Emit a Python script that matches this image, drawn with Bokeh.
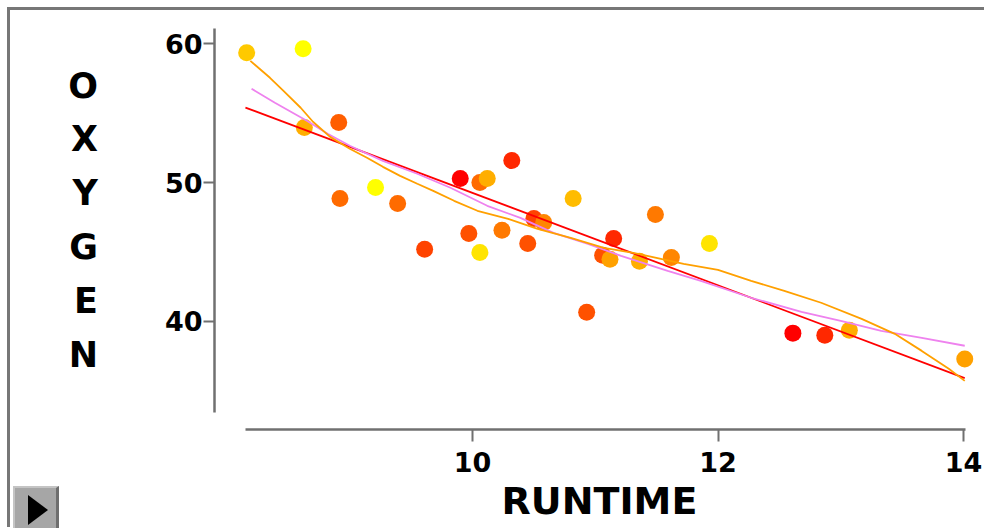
from bokeh.plotting import figure
from bokeh.models import ColumnDataSource, FixedTicker, Range1d, Div
from bokeh.layouts import column
from bokeh.transform import linear_cmap
from bokeh.embed import file_html
from bokeh.resources import INLINE

# ---- data ----
runtime = [8.16, 8.62, 8.63, 8.91, 8.92, 9.21, 9.39, 9.61, 9.90, 9.97, 10.06,
           10.06, 10.12, 10.24, 10.32, 10.45, 10.50, 10.58, 10.82, 10.93, 11.06,
           11.12, 11.15, 11.36, 11.49, 11.62, 11.93, 12.61, 12.87, 13.07, 14.01]
oxygen = [59.35, 59.64, 53.96, 54.32, 48.85, 49.64, 48.49, 45.18, 50.29, 46.33, 44.96,
          50.00, 50.29, 46.55, 51.58, 45.61, 47.41, 47.12, 48.85, 40.65, 44.75,
          44.46, 45.97, 44.32, 47.70, 44.60, 45.61, 39.14, 38.99, 39.35, 37.27]
age = [42, 38, 44, 50, 49, 38, 49, 52, 57, 51, 40,
       49, 44, 48, 54, 51, 52, 47, 43, 51, 51,
       45, 54, 44, 48, 47, 40, 57, 54, 44, 45]

linear_x = [8.15, 14.01]
linear_y = [55.40, 35.90]

quad_x = [8.20, 8.39, 8.65, 8.82, 9.00, 9.27, 9.55, 9.82, 10.12, 10.39, 10.66,
          10.94, 11.21, 11.59, 11.86, 12.27, 12.68, 13.00, 13.33, 13.66, 14.01]
quad_y = [56.76, 55.75, 54.45, 53.51, 52.65, 51.56, 50.63, 49.62, 48.32, 47.45, 46.37,
          45.58, 44.71, 43.63, 42.91, 41.69, 40.68, 40.03, 39.31, 38.80, 38.23]

smooth_x = [8.19, 8.35, 8.46, 8.60, 8.70, 8.84, 9.00, 9.14, 9.27, 9.41, 9.55, 9.68,
            9.85, 10.04, 10.29, 10.53, 10.80, 11.07, 11.31, 11.72, 12.00, 12.27,
            12.54, 12.84, 13.17, 13.44, 13.66, 13.88, 14.01]
smooth_y = [58.77, 57.55, 56.61, 55.39, 54.38, 53.29, 52.43, 51.78, 51.13, 50.48, 49.91, 49.40,
            48.68, 47.96, 47.38, 46.66, 46.01, 45.29, 44.93, 44.14, 43.70, 42.91,
            42.19, 41.33, 40.17, 39.09, 37.86, 36.57, 35.70]

x_ticks = [10, 12, 14]
y_ticks = [40, 50, 60]
x_title = "RUNTIME"
y_title = "OXYGEN"

# ---- styling ----
palette = ["#FF%02X00" % int(round(255 * (1 - i / 19))) for i in range(20)]
FONT = "DejaVu Sans"
AXIS_COLOR = "#707070"

p = figure(width=974, height=520, output_backend="svg", toolbar_location=None,
           x_range=Range1d(7.898, 14.171), y_range=Range1d(32.192, 62.401),
           min_border_left=204, min_border_right=0, min_border_top=0,
           min_border_bottom=101, background_fill_color="white",
           border_fill_color="white")
p.grid.visible = False
p.outline_line_color = None

src = ColumnDataSource(dict(x=runtime, y=oxygen, age=age))
p.scatter("x", "y", source=src, size=17, line_color=None,
          fill_color=linear_cmap("age", palette, 38, 57))

p.line(linear_x, linear_y, line_color="#FF0000", line_width=1.8)
p.line(quad_x, quad_y, line_color="#EE82EE", line_width=1.8)
p.line(smooth_x, smooth_y, line_color="#FFA000", line_width=1.8)

for ax in (p.xaxis[0], p.yaxis[0]):
    ax.axis_line_color = AXIS_COLOR
    ax.axis_line_width = 2.5
    ax.major_tick_line_color = AXIS_COLOR
    ax.major_tick_line_width = 2
    ax.major_tick_in = 0
    ax.minor_tick_line_color = None
    ax.major_label_text_font = FONT
    ax.major_label_text_font_style = "bold"
    ax.major_label_text_font_size = "27px"
    ax.major_label_text_color = "black"
    ax.axis_label_text_font = FONT
    ax.axis_label_text_font_style = "bold"
    ax.axis_label_text_color = "black"

p.xaxis.bounds = (8.15, 14.02)
p.xaxis.ticker = FixedTicker(ticks=x_ticks)
p.xaxis.major_tick_out = 12
p.xaxis.major_label_standoff = 10
p.xaxis.axis_label = x_title
p.xaxis.axis_label_text_font_size = "38px"
p.xaxis.axis_label_standoff = 4

p.yaxis.bounds = (33.4, 61.1)
p.yaxis.ticker = FixedTicker(ticks=y_ticks)
p.yaxis.major_tick_out = 11
p.yaxis.major_label_standoff = 1
p.yaxis.axis_label = "\n".join(y_title)
p.yaxis.axis_label_orientation = "horizontal"
p.yaxis.axis_label_text_font_size = "35px"
p.yaxis.axis_label_text_line_height = 1.345
p.yaxis.axis_label_standoff = 64

button_html = (
    '<div style="position:relative;width:46px;height:42px;background:#a6a6a6;'
    'border-top:2px solid #c4c4c4;border-left:2px solid #c4c4c4;'
    'border-right:3px solid #6e6e6e;">'
    '<div style="position:absolute;left:13px;top:7px;width:0;height:0;'
    'border-left:20px solid black;border-top:15px solid transparent;'
    'border-bottom:15px solid transparent;"></div></div>'
)
btn = Div(text=button_html, width=51, height=44, margin=(-44, 0, 0, 3),
          styles={"position": "relative", "z-index": "10"})

layout = column(p, btn, margin=(10, 0, 0, 10),
                styles={"box-shadow": "-3px -3px 0 0 #777777, 0 -3px 0 0 #777777"})

open("out.html", "w").write(file_html(layout, INLINE))
